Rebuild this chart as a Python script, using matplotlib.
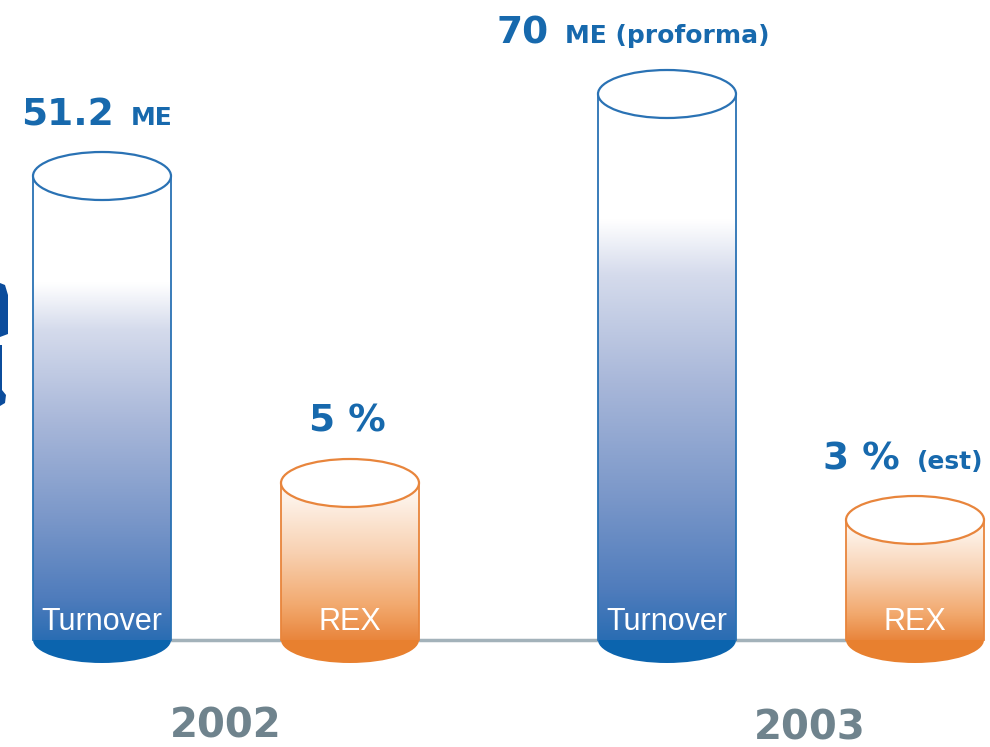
import numpy as np
import matplotlib
matplotlib.use("Agg")
import matplotlib.pyplot as plt
from matplotlib.patches import Ellipse, Rectangle, Polygon
from matplotlib.colors import to_rgb
from matplotlib.offsetbox import TextArea, HPacker, AnnotationBbox

# data
years = ["2002", "2003"]
series = ["Turnover", "REX"]
# visual heights of the cylinders (chart units, baseline = 0)
heights = [[464, 546], [157, 120]]
# value labels: (big part, small part)
big_labels = [["51.2", "70"], ["5 %", "3 %"]]
small_labels = [["ME", "ME (proforma)"], ["", "(est)"]]

# layout
group_x = [226, 791]
bar_off = [-124, 124]
half_w = 69
top_eh = 24
bot_eh = 23
label_dx = [[-5, -34], [-3, -12]]
year_dx = [0, 19]

blue_stops = [(0.0, "#ffffff"), (0.23, "#ffffff"), (0.33, "#d5dbec"),
              (0.53, "#a8b7d9"), (0.74, "#7a97c9"), (0.91, "#4f7cbc"),
              (1.0, "#2a6db3")]
orange_stops = [(0.0, "#fffaf5"), (0.12, "#fdf0e5"), (0.45, "#f8d0b0"),
                (0.78, "#f2a96e"), (1.0, "#e9853c")]
body_cols = {"Turnover": (blue_stops, "#0b64ae", "#2a72b4"),
             "REX": (orange_stops, "#e8802f", "#e8853c")}
label_col = "#1769ad"


def gradient(stops, n=400):
    t = np.linspace(0, 1, n)
    pos = [s[0] for s in stops]
    rgb = np.array([to_rgb(s[1]) for s in stops])
    out = np.stack([np.interp(t, pos, rgb[:, k]) for k in range(3)], axis=1)
    return out[:, None, :]


fig = plt.figure(figsize=(9.9, 7.47), dpi=100)
ax = fig.add_axes([0, 0, 1, 1])
ax.axis("off")

# baseline
ax.plot([group_x[0] + bar_off[0], group_x[1] + bar_off[1]], [0, 0],
        color="#a3b2ba", lw=2.5, zorder=1, solid_capstyle="butt")

for si, s in enumerate(series):
    stops, bot_col, edge = body_cols[s]
    for yi in range(len(years)):
        cx = group_x[yi] + bar_off[si]
        h = heights[si][yi]
        ax.add_patch(Ellipse((cx, 0), 2 * half_w, 2 * bot_eh, facecolor=bot_col,
                             edgecolor="none", zorder=2))
        rect = Rectangle((cx - half_w, 0), 2 * half_w, h, facecolor="none",
                         edgecolor="none")
        ax.add_patch(rect)
        im = ax.imshow(gradient(stops), extent=[cx - half_w, cx + half_w, 0, h],
                       aspect="auto", origin="upper", zorder=3,
                       interpolation="bilinear")
        im.set_clip_path(rect)
        ax.plot([cx - half_w, cx - half_w], [0, h], color=edge, lw=1.3, zorder=4)
        ax.plot([cx + half_w, cx + half_w], [0, h], color=edge, lw=1.3, zorder=4)
        ax.add_patch(Ellipse((cx, h), 2 * half_w, 2 * top_eh, facecolor="white",
                             edgecolor=edge, lw=1.6, zorder=5))
        # name inside the cylinder
        ax.text(cx, 10, s, color="white", fontsize=22, ha="center",
                va="baseline", family=["Liberation Sans Narrow", "Liberation Sans"],
                zorder=6)
        # value label above
        parts = [TextArea(big_labels[si][yi],
                          textprops=dict(color=label_col, fontsize=27,
                                         fontweight="bold"))]
        if small_labels[si][yi]:
            parts.append(TextArea(small_labels[si][yi],
                                  textprops=dict(color=label_col, fontsize=18,
                                                 fontweight="bold")))
        pack = HPacker(children=parts, align="baseline", pad=0, sep=12)
        ab = AnnotationBbox(pack, (cx, h), xybox=(label_dx[si][yi], 43),
                            xycoords="data", boxcoords="offset pixels",
                            box_alignment=(0.5, 0), frameon=False, pad=0)
        ax.add_artist(ab)

for yi, yr in enumerate(years):
    ax.text(group_x[yi] + year_dx[yi], -98 - yi, yr, color="#6f838d",
            fontsize=29, fontweight="bold", ha="center", va="baseline")

# cropped logo fragment on the left edge
ax.add_patch(Polygon([(0, 357), (5, 355), (8, 345), (8, 306), (0, 303)],
                     closed=True, facecolor="#0b4c9c", edgecolor="none"))
ax.add_patch(Polygon([(0, 295), (2, 295), (2, 250), (6, 245), (5, 237), (0, 234)],
                     closed=True, facecolor="#0b4c9c", edgecolor="none"))

ax.set_xlim(0, 990)
ax.set_ylim(-107, 640)
fig.savefig("out.png", dpi=100)
